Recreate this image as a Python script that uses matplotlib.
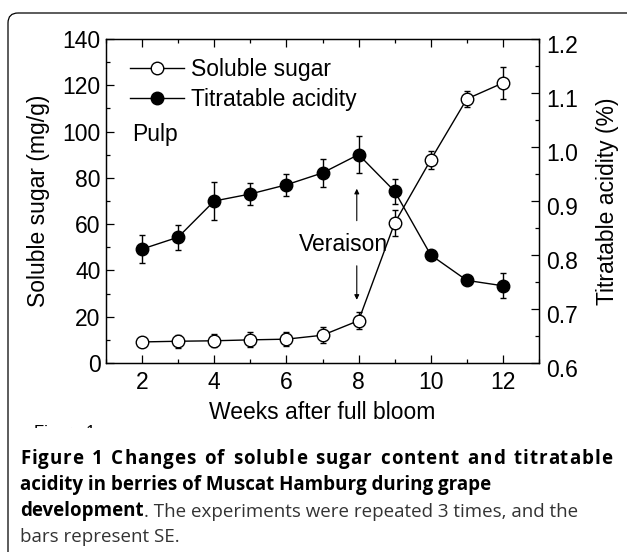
import matplotlib
matplotlib.use("Agg")
import matplotlib.pyplot as plt
from matplotlib.patches import FancyBboxPatch, Rectangle
from matplotlib.ticker import MultipleLocator, FormatStrFormatter
import matplotlib.transforms as mtransforms

plt.rcParams["font.family"] = ["Liberation Sans", "DejaVu Sans"]

# Data
weeks = [2, 3, 4, 5, 6, 7, 8, 9, 10, 11, 12]
sugar = [9.1, 9.4, 9.6, 10.0, 10.3, 12.0, 18.3, 60.5, 87.8, 114.1, 121.0]
sugar_se = [2.0, 2.9, 2.9, 3.3, 3.0, 3.4, 3.7, 5.5, 3.8, 3.4, 6.8]
acid = [0.811, 0.833, 0.900, 0.913, 0.930, 0.952, 0.986, 0.918, 0.800, 0.753, 0.743]
acid_se = [0.026, 0.023, 0.036, 0.020, 0.020, 0.026, 0.034, 0.023, 0.008, 0.005, 0.023]

W, H = 627, 552
FS = 16.5
fig = plt.figure(figsize=(W / 100, H / 100), dpi=100)

# full-figure overlay in pixel coordinates for the frame and the caption
bg = fig.add_axes([0, 0, 1, 1], zorder=0)
bg.set_xlim(0, W)
bg.set_ylim(H, 0)
bg.axis("off")
bg.add_patch(FancyBboxPatch((8, 13), 640, 580, boxstyle="round,pad=0,rounding_size=10",
                            fc="none", ec="black", lw=0.9))

ax = fig.add_axes([106 / W, 1 - 363 / H, 433 / W, 324 / H], zorder=2)
ax.patch.set_alpha(0)
ax2 = ax.twinx()

err_kw = dict(color="black", lw=1.0, ms=9, mew=1.0, elinewidth=1.0, capsize=2.5, capthick=1.5)
sug = ax.errorbar(weeks, sugar, yerr=sugar_se, fmt="-o", mfc="white", mec="black",
                  zorder=3, **err_kw)
aci = ax2.errorbar(weeks, acid, yerr=acid_se, fmt="-o", mfc="black", mec="black",
                   zorder=3, **err_kw)

ax.set_xlim(1, 13)
ax.set_ylim(0, 140)
ax2.set_ylim(0.6, 1.2)
ax.xaxis.set_major_locator(MultipleLocator(2))
ax.xaxis.set_minor_locator(MultipleLocator(1))
ax.yaxis.set_major_locator(MultipleLocator(20))
ax.yaxis.set_minor_locator(MultipleLocator(10))
ax2.yaxis.set_major_locator(MultipleLocator(0.1))
ax2.yaxis.set_minor_locator(MultipleLocator(0.05))
ax2.yaxis.set_major_formatter(FormatStrFormatter("%.1f"))

ax.tick_params(which="both", direction="in", top=True, right=False, labelsize=FS, width=0.9)
ax.tick_params(which="major", length=5.5)
ax.tick_params(which="minor", length=3)
ax.tick_params(axis="x", pad=6)
ax.tick_params(axis="y", pad=4)
ax2.tick_params(which="both", direction="in", labelsize=FS, width=0.9, pad=5)
ax2.tick_params(which="major", length=5.5)
ax2.tick_params(which="minor", length=3)
for sp in list(ax.spines.values()) + list(ax2.spines.values()):
    sp.set_linewidth(0.9)

# right-hand tick labels sit a little low in the original
shift = mtransforms.ScaledTranslation(0, -5 / 100, fig.dpi_scale_trans)
for lab in ax2.get_yticklabels():
    lab.set_transform(lab.get_transform() + shift)

ax.set_xlabel("Weeks after full bloom", fontsize=FS)
ax.set_ylabel("Soluble sugar (mg/g)", fontsize=FS)
ax2.set_ylabel("Titratable acidity (%)", fontsize=FS)
ax.xaxis.set_label_coords(0.5, (363 - 401) / 324)
ax.yaxis.set_label_coords((50 - 106) / 433, 0.5)
ax2.yaxis.set_label_coords((596 - 106) / 433, 0.5)

ax.legend([sug[0], aci[0]], ["Soluble sugar", "Titratable acidity"], loc="upper left",
          bbox_to_anchor=(0.055, 0.94), frameon=False, fontsize=FS, borderaxespad=0,
          borderpad=0, handlelength=2.35, handletextpad=0.3, labelspacing=0.3)

ax.text(0.06, 0.704, "Pulp", transform=ax.transAxes, fontsize=FS, va="center", ha="left")

ax.text(7.59, 51.1, "Veraison", fontsize=FS, ha="center", va="center")
arrow = dict(arrowstyle="-|>", lw=0.8, color="black", mutation_scale=7, shrinkA=0, shrinkB=0)
ax.annotate("", xy=(7.95, 75.3), xytext=(7.95, 61.5), arrowprops=arrow)
ax.annotate("", xy=(7.95, 27.3), xytext=(7.95, 42.0), arrowprops=arrow)

# clipped remnant of the original panel label: only the tops of the letters show
bg.text(34, 425, "Figure 1", fontsize=12, ha="left", va="top", color="black")
bg.add_patch(Rectangle((20, 427.5), 120, 20, fc="white", ec="none", zorder=5))

# caption
CFS = 13.5
cap_font = ["Open Sans", "DejaVu Sans"]
renderer = fig.canvas.get_renderer()


def width_of(s, **kw):
    t = bg.text(0, 0, s, fontsize=CFS, family=cap_font, **kw)
    w = t.get_window_extent(renderer).width
    t.remove()
    return w


# first line is spread across the column: extra letter spacing, wider word gaps
words = "Figure 1 Changes of soluble sugar content and titratable".split()
space = width_of("a a", fontweight="bold") - 2 * width_of("a", fontweight="bold")
word_w = [width_of(w, fontweight="bold") for w in words]
GAP_UNITS = 4
n_inner = sum(len(w) - 1 for w in words) + GAP_UNITS * (len(words) - 1)
track = (612 - 20 - sum(word_w) - (len(words) - 1) * space) / n_inner
xpos = 20
for w, ww in zip(words, word_w):
    for k, ch in enumerate(w):
        off = width_of(w[:k], fontweight="bold") if k else 0
        bg.text(xpos + off + track * k, 464, ch, fontsize=CFS, family=cap_font,
                fontweight="bold", ha="left", va="baseline")
    xpos += ww + track * (len(w) - 1) + space + GAP_UNITS * track

cap = dict(fontsize=CFS, family=cap_font, ha="left", va="baseline")
bg.text(20, 490, "acidity in berries of Muscat Hamburg during grape",
        fontweight="bold", color="black", **cap)
t3 = bg.text(20, 516, "development", fontweight="bold", color="black", **cap)
bg.annotate(". The experiments were repeated 3 times, and the", xy=(1, 0), xycoords=t3,
            fontsize=CFS, family=cap_font, ha="left", va="bottom", color="#333333")
bg.text(20, 542, "bars represent SE.", color="#333333", **cap)

fig.savefig("out.png", dpi=100)
